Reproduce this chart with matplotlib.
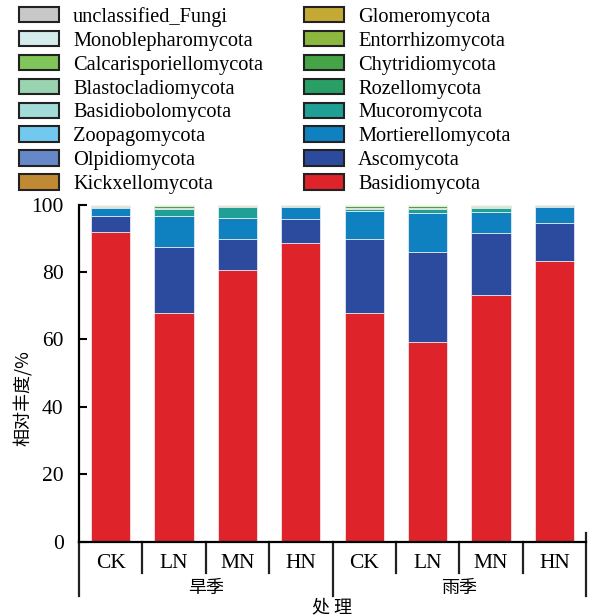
import matplotlib
matplotlib.use('Agg')
import matplotlib.pyplot as plt
import numpy as np

# Amostras: 旱季 / 雨季 x (CK, LN, MN, HN)
treatments = ['CK', 'LN', 'MN', 'HN', 'CK', 'LN', 'MN', 'HN']
seasons = ['旱季', '雨季']

# Abundância relativa (%) por filo, ordem de empilhamento (base -> topo)
basidiomycota = [91.7, 67.7, 80.7, 88.7, 67.7, 59.1, 73.2, 83.3]
ascomycota = [4.9, 19.8, 9.0, 7.1, 22.0, 26.7, 18.2, 11.3]
mortierellomycota = [2.4, 9.1, 6.4, 3.4, 8.5, 11.8, 6.4, 4.6]
mucoromycota = [0.15, 2.1, 3.1, 0.2, 0.5, 1.2, 1.2, 0.3]
rozellomycota = [0.05, 0.2, 0.1, 0.05, 0.3, 0.3, 0.2, 0.1]
chytridiomycota = [0.35, 0.6, 0.2, 0.3, 0.6, 0.5, 0.5, 0.2]
entorrhizomycota = [0.02, 0.03, 0.02, 0.01, 0.03, 0.02, 0.02, 0.01]
glomeromycota = [0.1, 0.1, 0.1, 0.05, 0.1, 0.1, 0.1, 0.05]
kickxellomycota = [0.1, 0.1, 0.15, 0.05, 0.1, 0.1, 0.05, 0.05]
olpidiomycota = [0.05, 0.04, 0.06, 0.03, 0.05, 0.04, 0.05, 0.03]
zoopagomycota = [0.03, 0.02, 0.03, 0.02, 0.03, 0.03, 0.02, 0.02]
basidiobolomycota = [0.02, 0.02, 0.01, 0.01, 0.02, 0.02, 0.01, 0.01]
blastocladiomycota = [0.02, 0.03, 0.02, 0.01, 0.02, 0.02, 0.02, 0.01]
calcarisporiellomycota = [0.01, 0.02, 0.01, 0.01, 0.01, 0.01, 0.01, 0.01]
monoblepharomycota = [0.01, 0.01, 0.01, 0.01, 0.01, 0.01, 0.01, 0.01]
unclassified_fungi = [0.09, 0.13, 0.09, 0.05, 0.03, 0.05, 0.01, 0.02]

phyla = [
    ('Basidiomycota', basidiomycota, '#de232b'),
    ('Ascomycota', ascomycota, '#2d4b9e'),
    ('Mortierellomycota', mortierellomycota, '#0f80c0'),
    ('Mucoromycota', mucoromycota, '#20a095'),
    ('Rozellomycota', rozellomycota, '#2a9f65'),
    ('Chytridiomycota', chytridiomycota, '#45a445'),
    ('Entorrhizomycota', entorrhizomycota, '#8cb840'),
    ('Glomeromycota', glomeromycota, '#c4aa35'),
    ('Kickxellomycota', kickxellomycota, '#c08a35'),
    ('Olpidiomycota', olpidiomycota, '#6688c8'),
    ('Zoopagomycota', zoopagomycota, '#72c8ee'),
    ('Basidiobolomycota', basidiobolomycota, '#a2dbd8'),
    ('Blastocladiomycota', blastocladiomycota, '#99d3b0'),
    ('Calcarisporiellomycota', calcarisporiellomycota, '#80c65a'),
    ('Monoblepharomycota', monoblepharomycota, '#d4ecec'),
    ('unclassified_Fungi', unclassified_fungi, '#c8c8c8'),
]

serif = 'Liberation Serif'
cjk = 'Noto Sans CJK SC'

fig = plt.figure(figsize=(6.08, 6.16), dpi=100)
ax = fig.add_axes([79 / 608, 1 - 541.7 / 616, (586 - 79) / 608, (541.7 - 204.5) / 616])

x = np.arange(len(treatments)) + 0.5
bottom = np.zeros(len(treatments))
handles = []
for name, vals, color in phyla:
    vals = np.array(vals)
    b = ax.bar(x, vals, width=0.62, bottom=bottom, color=color,
               edgecolor='#f4f4f4', linewidth=0.5, label=name)
    handles.append(b)
    bottom += vals

ax.set_xlim(0, len(treatments))
ax.set_ylim(0, 100)
ax.set_yticks(range(0, 101, 20))
ax.set_yticklabels([str(v) for v in range(0, 101, 20)], family=serif, fontsize=15.5)
ax.tick_params(axis='y', direction='in', length=6, width=1.5, pad=11)
ax.set_xticks([])
for s in ['top', 'right']:
    ax.spines[s].set_visible(False)
ax.spines['left'].set_linewidth(1.6)
ax.spines['bottom'].set_linewidth(1.6)

# Separadores e rótulos do eixo x (hierárquico)
tr = ax.get_xaxis_transform()
for i in range(1, len(treatments)):
    if i == 4:
        continue
    ax.plot([i, i], [0, -0.093], color='#222222', lw=1.6, transform=tr, clip_on=False)
ax.plot([0, 0], [0, -0.1615], color='#222222', lw=1.6, transform=tr, clip_on=False)
ax.plot([4, 4], [0, -0.1615], color='#222222', lw=1.6, transform=tr, clip_on=False)
ax.plot([8, 8], [0.026, -0.1615], color='#222222', lw=1.6, transform=tr, clip_on=False)

for xi, t in zip(x, treatments):
    ax.text(xi, -0.066, t, transform=tr, ha='center', va='center',
            family=serif, fontsize=15.5)
for j, s in enumerate(seasons):
    ax.text(2 + 4 * j, -0.1376, s, transform=tr, ha='center', va='center',
            family=cjk, fontsize=13)
ax.text(4, -0.196, '处 理', transform=tr, ha='center', va='center',
        family=cjk, fontsize=13)

fig.text(23 / 608, 1 - 398 / 616, '相对丰度/%', rotation=90, ha='center', va='center',
         family=[cjk, 'DejaVu Sans'], fontsize=13)

# Legenda em duas colunas (ordem inversa ao empilhamento)
leg = fig.legend(handles[::-1], [p[0] for p in phyla][::-1], ncol=2,
                 loc='upper left', bbox_to_anchor=(19 / 608, 1 - 7 / 616),
                 frameon=False, prop={'family': serif, 'size': 14.7},
                 handlelength=1.96, handleheight=0.78, handletextpad=0.69,
                 labelspacing=0.2, columnspacing=2.0, borderpad=0, borderaxespad=0)
for h in leg.legend_handles:
    h.set_edgecolor('#222222')
    h.set_linewidth(1.5)

fig.savefig('out.png', dpi=100)
